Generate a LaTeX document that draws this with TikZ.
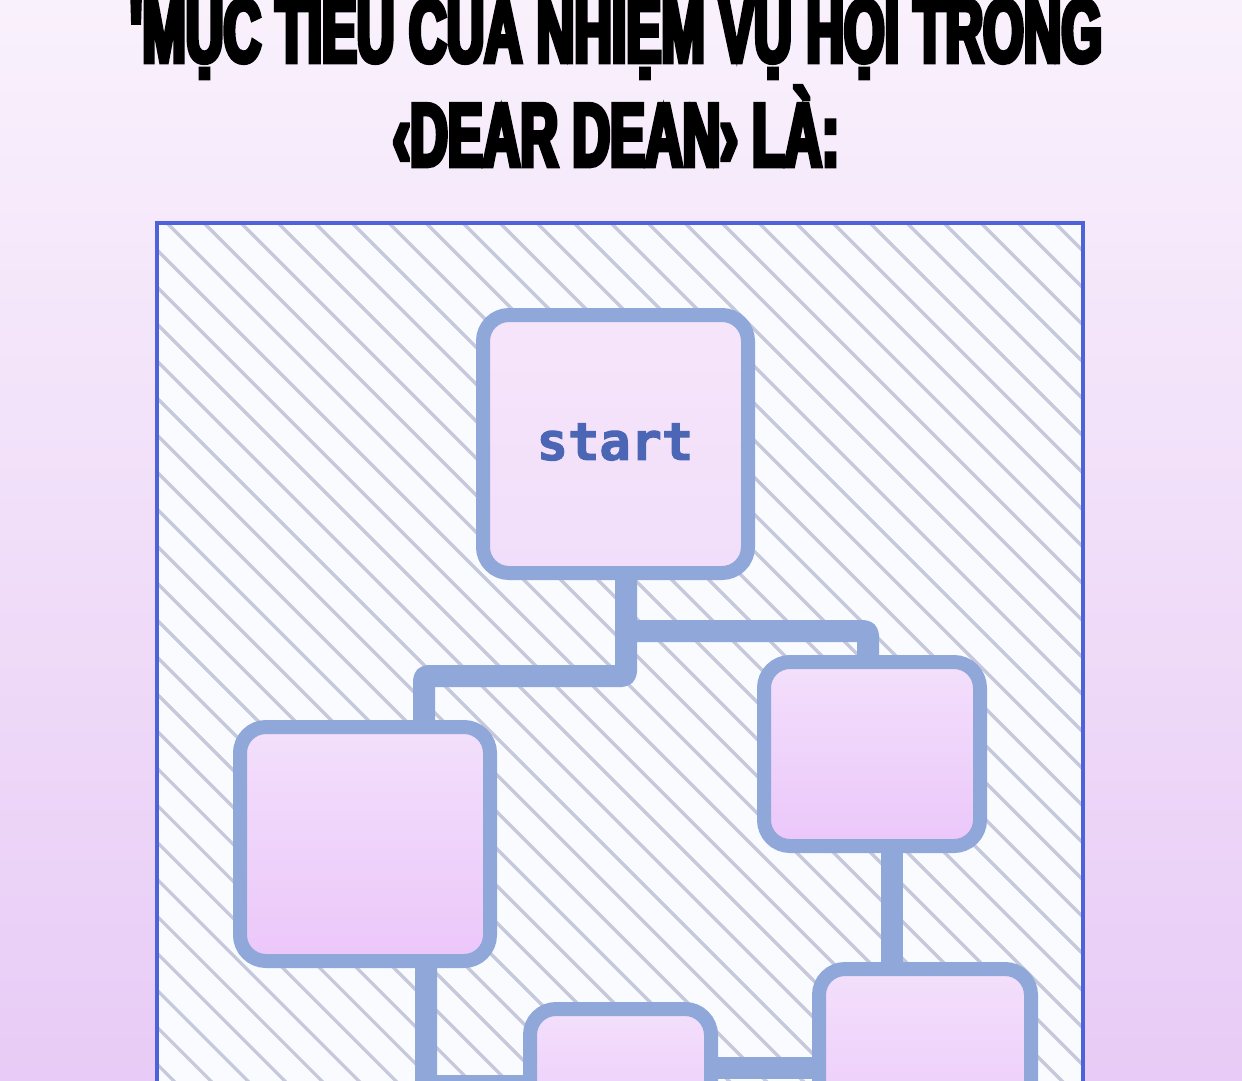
\documentclass[tikz,border=0pt]{standalone}
\usepackage{fontspec}
\usetikzlibrary{calc}
\font\titlefnt="Liberation Sans/B:extend=0.58;embolden=5" at 90pt
\font\startfnt="DejaVu Sans Mono/B:embolden=2" at 52pt
\definecolor{bgtop}{HTML}{F9F1FC}
\definecolor{bgbot}{HTML}{E8CBF6}
\definecolor{framec}{HTML}{4F63D9}
\definecolor{framefill}{HTML}{F9FBFF}
\definecolor{hatchc}{HTML}{C6C9DB}
\definecolor{boxline}{HTML}{8FA7D9}
\definecolor{boxtop}{HTML}{F3DFFB}
\definecolor{boxbot}{HTML}{EBC7FA}
\definecolor{starttop}{HTML}{F6E5FA}
\definecolor{startbot}{HTML}{F1DEFA}
\definecolor{starttext}{HTML}{4B66B5}
\pgfdeclarelayer{back}
\pgfdeclarelayer{mid}
\pgfsetlayers{back,mid,main}
\begin{document}
\begin{tikzpicture}[x=1pt,y=-1pt,
  box/.style={draw=boxline, line width=14pt, rounded corners=26pt, outer sep=0pt, inner sep=0pt,
    top color=boxtop, bottom color=boxbot},
  conn/.style={draw=boxline, line width=22pt, line join=round, rounded corners=4pt},
  hatch/.style={draw=hatchc, line width=3.2pt},
  titletext/.style={inner sep=0pt, anchor=base, text=black, font=\titlefnt}]
\useasboundingbox (0,0) rectangle (1242,1080);
\begin{pgfonlayer}{back}
  \shade[top color=bgtop, bottom color=bgbot] (0,0) rectangle (1242,1080);
  \fill[framefill] (157,223) rectangle (1083,1130);
  \begin{scope}
    \clip (157,223) rectangle (1083,1130);
    \foreach \i in {-26,...,26} \draw[hatch] (167+37*\i,223) -- ++(1000,1000);
  \end{scope}
  \draw[framec, line width=4.5pt] (157,1130) -- (157,223) -- (1083,223) -- (1083,1130);
\end{pgfonlayer}
% title
\node[titletext] (t1) at (616,62) {'MỤC TIÊU CỦA NHIỆM VỤ HỘI TRONG};
\node[titletext] (t2) at (616,166) {‹DEAR DEAN› LÀ:};
% boxes
\node[box, top color=starttop, bottom color=startbot, minimum width=265pt, minimum height=258pt] (start) at (615.5,444) {};
\node[text=starttext, font=\startfnt, inner sep=0pt] (lbl) at (615,442) {start};
\node[box, minimum width=250pt, minimum height=234pt] (left) at (365,844) {};
\node[box, minimum width=216pt, minimum height=184pt] (rm) at (872,754) {};
\node[box, minimum width=212pt, minimum height=198pt] (rb) at (925,1068) {};
\node[box, minimum width=181pt, minimum height=154pt] (bm) at (620.5,1086) {};
% connectors
\coordinate (cx1) at (626,0);
\coordinate (cy1) at (0,676);
\coordinate (cx2) at (424,0);
\coordinate (cy2) at (0,631);
\coordinate (cx3) at (868,0);
\coordinate (cx4) at (892,0);
\coordinate (cx5) at (426,0);
\begin{pgfonlayer}{mid}
  \draw[conn] (start.south -| cx1) |- (cy1 -| cx2) -- (left.north -| cx2);
  \draw[conn] (cy2 -| cx1) -| (rm.north -| cx3);
  \draw[conn] (rm.south -| cx4) -- (rb.north -| cx4);
  \draw[conn] (left.south -| cx5) |- (bm.west);
  \draw[conn] (bm.east |- rb.west) -- (rb.west);
\end{pgfonlayer}
\end{tikzpicture}
\end{document}
